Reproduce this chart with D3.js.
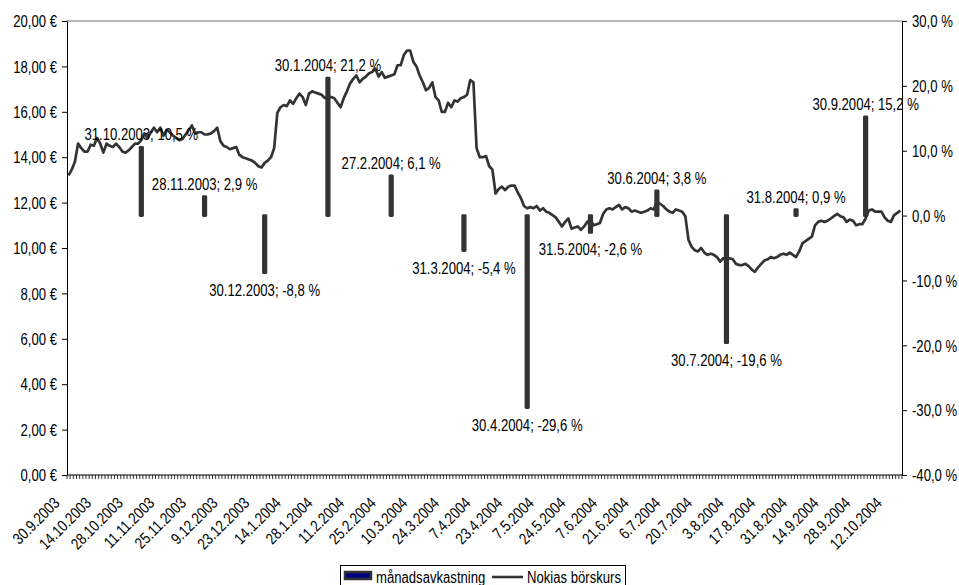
<!DOCTYPE html>
<html>
<head>
<meta charset="utf-8">
<script src="https://cdn.jsdelivr.net/npm/d3@7"></script>
<style>
  body { margin: 0; background: #fff; }
  svg text { font-family: "Liberation Sans", Arial, sans-serif; font-size: 16px; fill: #000; }
</style>
</head>
<body>
<svg id="canvas" width="959" height="585"></svg>
<script>
// trading days run from 30.9.2003 to 15.10.2004, exchange closed on these days
var firstDay = new Date(2003, 8, 30);
var lastDay = new Date(2004, 9, 15);
var holidays = ["24.12.2003", "25.12.2003", "26.12.2003", "31.12.2003", "1.1.2004",
                "6.1.2004", "9.4.2004", "12.4.2004", "20.5.2004", "25.6.2004"];

// Nokia closing price, one per trading day (EUR)
var prices = [
  13.2, 13.45, 13.8, 14.6, 14.4, 14.25, 14.25, 14.55, 14.5, 14.85,
  14.6, 14.2, 14.6, 14.5, 14.45, 14.6, 14.45, 14.25, 14.2, 14.3,
  14.45, 14.6, 14.6, 14.75, 15.05, 14.85, 15.1, 15.3, 15.1, 15.3,
  14.95, 15.2, 15.1, 14.95, 14.85, 14.75, 14.8, 15.0, 15.2, 15.4,
  15.05, 15.1, 15.1, 15.0, 15.0, 15.05, 15.15, 15.3, 14.7, 14.5,
  14.45, 14.35, 14.4, 14.45, 14.1, 14.0, 13.95, 13.9, 13.85, 13.75,
  13.6, 13.55, 13.75, 13.85, 14.0, 14.4, 15.95, 16.2, 16.3, 16.25,
  16.5, 16.35, 16.6, 16.8, 16.65, 16.3, 16.8, 16.9, 16.85, 16.8,
  16.75, 16.6, 16.65, 16.65, 16.6, 16.4, 16.2, 16.6, 16.9, 17.25,
  17.45, 17.6, 17.3, 17.45, 17.55, 17.7, 17.75, 17.9, 17.55, 17.75,
  17.5, 17.55, 17.6, 17.65, 18.05, 18.05, 18.5, 18.7, 18.7, 18.2,
  18.0, 17.6, 17.3, 16.95, 17.05, 17.3, 16.65, 16.5, 16.0, 16.0,
  16.4, 16.2, 16.5, 16.45, 16.6, 16.65, 16.75, 17.4, 17.3, 14.4,
  14.0, 14.0, 14.05, 13.6, 13.45, 12.4, 12.6, 12.7, 12.55, 12.7,
  12.75, 12.75, 12.45, 12.2, 11.85, 11.75, 11.8, 11.75, 11.85, 11.65,
  11.75, 11.6, 11.55, 11.45, 11.35, 11.15, 10.95, 11.15, 11.3, 10.85,
  10.9, 10.95, 10.8, 10.95, 11.15, 11.25, 11.0, 11.05, 11.1, 11.5,
  11.7, 11.75, 11.7, 11.8, 11.9, 11.7, 11.8, 11.75, 11.6, 11.65,
  11.6, 11.55, 11.6, 11.65, 11.75, 11.7, 12.0, 11.95, 11.85, 11.7,
  11.6, 11.55, 11.7, 11.65, 11.6, 11.4, 10.35, 10.05, 9.9, 9.85,
  10.0, 9.8, 9.7, 9.75, 9.7, 9.6, 9.4, 9.55, 9.5, 9.55,
  9.5, 9.3, 9.25, 9.25, 9.3, 9.2, 9.05, 8.95, 9.15, 9.3,
  9.45, 9.5, 9.6, 9.55, 9.6, 9.7, 9.75, 9.7, 9.8, 9.7,
  9.6, 9.85, 10.2, 10.3, 10.4, 10.5, 11.0, 11.15, 11.2, 11.15,
  11.2, 11.3, 11.4, 11.5, 11.4, 11.35, 11.15, 11.25, 11.2, 11.0,
  11.05, 11.05, 11.3, 11.65, 11.7, 11.6, 11.6, 11.6, 11.35, 11.2,
  11.15, 11.45, 11.55, 11.65
];

// monthly return (%) at month end
var monthEnds = ["31.10.2003", "28.11.2003", "30.12.2003", "30.1.2004", "27.2.2004", "31.3.2004",
                 "30.4.2004", "31.5.2004", "30.6.2004", "30.7.2004", "31.8.2004", "30.9.2004"];
var monthReturns = [10.5, 2.9, -8.8, 21.2, 6.1, -5.4, -29.6, -2.6, 3.8, -19.6, 0.9, 15.2];

// labelled dates on the category axis
var tickLabels = ["30.9.2003", "14.10.2003", "28.10.2003", "11.11.2003", "25.11.2003", "9.12.2003",
                  "23.12.2003", "14.1.2004", "28.1.2004", "11.2.2004", "25.2.2004", "10.3.2004",
                  "24.3.2004", "7.4.2004", "23.4.2004", "7.5.2004", "24.5.2004", "7.6.2004",
                  "21.6.2004", "6.7.2004", "20.7.2004", "3.8.2004", "17.8.2004", "31.8.2004",
                  "14.9.2004", "28.9.2004", "12.10.2004"];
var leftTicks = [0, 2, 4, 6, 8, 10, 12, 14, 16, 18, 20];
var rightTicks = [-40, -30, -20, -10, 0, 10, 20, 30];

function dayName(d) { return d.getDate() + "." + (d.getMonth() + 1) + "." + d.getFullYear(); }
var days = [];
for (var d = new Date(firstDay); d <= lastDay; d.setDate(d.getDate() + 1)) {
  var wd = d.getDay();
  if (wd == 0 || wd == 6) continue;
  if (holidays.indexOf(dayName(d)) >= 0) continue;
  days.push(dayName(d));
}

var fi = d3.formatLocale({decimal: ",", thousands: " ", grouping: [3], currency: ["", ""], minus: "-"});
var fmt2 = fi.format(".2f"), fmt1 = fi.format(".1f");

var svg = d3.select("#canvas");
var plotLeft = 67, plotRight = 902, plotTop = 21, plotBottom = 475;
var lineColor = "#333333";
var narrow = " scale(0.82,1)";   // squeeze text to look like a narrow face

var x = d3.scaleBand().domain(days).range([plotLeft, plotRight]);
var yL = d3.scaleLinear().domain([0, 20]).range([plotBottom, plotTop]);
var yR = d3.scaleLinear().domain([-40, 30]).range([plotBottom, plotTop]);
var bw = x.bandwidth();

// plot area top border
svg.append("line")
  .attr("x1", plotLeft).attr("x2", plotRight).attr("y1", plotTop).attr("y2", plotTop)
  .style("stroke", "#a0a0a0").style("stroke-width", 1.5);

// price line
var priceLine = d3.line()
  .x(function(d, i) { return x(days[i]) + bw / 2; })
  .y(function(d) { return yL(d); });
svg.append("path")
  .datum(prices)
  .attr("d", priceLine)
  .style("fill", "none")
  .style("stroke", lineColor)
  .style("stroke-width", 2.7)
  .style("stroke-linejoin", "round");

// monthly return columns
var bars = monthEnds.map(function(m, i) { return {date: m, value: monthReturns[i]}; });
svg.selectAll("rect.ret")
  .data(bars).enter().append("rect")
  .attr("class", "ret")
  .attr("x", function(d) { return x(d.date) + bw / 2 - 1.2; })
  .attr("width", 2.4)
  .attr("y", function(d) { return yR(Math.max(0, d.value)); })
  .attr("height", function(d) { return Math.abs(yR(d.value) - yR(0)); })
  .style("fill", "#000080")
  .style("stroke", lineColor)
  .style("stroke-width", 2.8)
  .style("stroke-linejoin", "round");

svg.selectAll("text.retLabel")
  .data(bars).enter().append("text")
  .attr("class", "retLabel")
  .attr("transform", function(d) {
    var ty = d.value >= 0 ? yR(d.value) - 7 : yR(d.value) + 23;
    return "translate(" + (x(d.date) + bw / 2) + "," + ty + ")" + narrow;
  })
  .attr("text-anchor", "middle")
  .text(function(d) { return d.date + "; " + fmt1(d.value) + " %"; });

// left axis
var leftAxis = svg.append("g")
  .attr("transform", "translate(" + plotLeft + ",0)")
  .call(d3.axisLeft(yL).tickValues(leftTicks).tickSize(5).tickSizeOuter(0)
        .tickFormat(function(d) { return fmt2(d) + " €"; }));
// right axis
var rightAxis = svg.append("g")
  .attr("transform", "translate(" + plotRight + ",0)")
  .call(d3.axisRight(yR).tickValues(rightTicks).tickSize(5).tickSizeOuter(0)
        .tickFormat(function(d) { return fmt1(d) + " %"; }));
[leftAxis, rightAxis].forEach(function(a) {
  a.select(".domain").style("stroke", "#000");
  a.selectAll(".tick line").style("stroke", "#000");
  a.selectAll(".tick text").style("font-size", "16px").style("font-family", null)
    .attr("x", 0).attr("dy", "0.36em");
});
leftAxis.selectAll(".tick text").attr("transform", "translate(-10,0)" + narrow);
rightAxis.selectAll(".tick text").attr("transform", "translate(10,0)" + narrow);

// category axis: line, a tick at every day boundary, rotated labels
svg.append("line")
  .attr("x1", plotLeft).attr("x2", plotRight).attr("y1", plotBottom).attr("y2", plotBottom)
  .style("stroke", "#000");
svg.selectAll("line.dayTick")
  .data(days.concat(["end"])).enter().append("line")
  .attr("class", "dayTick")
  .attr("x1", function(d) { return d == "end" ? plotRight : x(d); })
  .attr("x2", function(d) { return d == "end" ? plotRight : x(d); })
  .attr("y1", plotBottom).attr("y2", plotBottom + 4)
  .style("stroke", "#000").style("stroke-width", 0.8);

svg.selectAll("text.dayLabel")
  .data(tickLabels).enter().append("text")
  .attr("class", "dayLabel")
  .attr("text-anchor", "end")
  .attr("transform", function(d) {
    return "translate(" + (x(d) + bw / 2 - 8) + "," + (plotBottom + 29) + ") rotate(-45)" + narrow;
  })
  .text(function(d) { return d; });

// legend
var legend = svg.append("g");
legend.append("rect")
  .attr("x", 340.5).attr("y", 565.5).attr("width", 285).attr("height", 28)
  .style("fill", "#fff").style("stroke", "#000");
legend.append("rect")
  .attr("x", 345).attr("y", 572).attr("width", 26).attr("height", 7)
  .style("fill", "#000080").style("stroke", lineColor).style("stroke-width", 2.5);
legend.append("text").attr("transform", "translate(376,583)" + narrow).text("månadsavkastning");
legend.append("line")
  .attr("x1", 492).attr("x2", 523).attr("y1", 577).attr("y2", 577)
  .style("stroke", lineColor).style("stroke-width", 2.6);
legend.append("text").attr("transform", "translate(527,583)" + narrow).text("Nokias börskurs");
</script>
</body>
</html>
